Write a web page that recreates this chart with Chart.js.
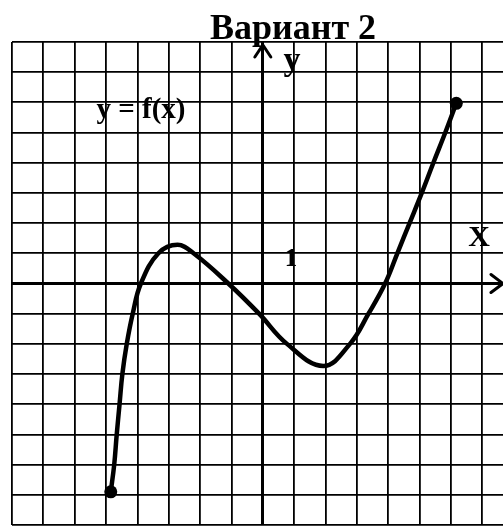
<!DOCTYPE html>
<html>
<head>
<meta charset="utf-8">
<script src="https://cdn.jsdelivr.net/npm/chart.js@4"></script>
<style>
  body { margin: 0; background: #fff; overflow: hidden; }
  #graph { display: block; }
</style>
</head>
<body>
<canvas id="graph" width="503" height="529"></canvas>
<script>
// points (grid units)
const curveX = [-4.85, -4.74, -4.66, -4.57, -4.48, -4.34, -4.15, -3.89, -3.33, -2.72, -2.21, -1.1, -0.12, 0.77, 1.93, 2.78, 3.37, 3.9, 4.29, 4.68, 5.07, 5.44, 5.82, 6.17];
const curveY = [-6.9, -6.0, -5.0, -4.0, -3.0, -2.0, -1.0, 0, 1.0, 1.28, 1.0, 0, -1.0, -2.0, -2.73, -2.0, -1.0, 0, 1.0, 2.0, 3.0, 4.0, 5.0, 5.97];

const xMin = -8, xMax = 7.66;
const yMin = -8, yMax = 8;

const titleText = 'Вариант 2';
const funcLabel = 'y = f(x)';

const points = curveX.map((x, i) => ({ x: x, y: curveY[i] }));
const lastIdx = points.length - 1;

// axis arrows and the text labels
const decor = {
  id: 'decor',
  afterDraw(chart) {
    const c = chart.ctx;
    const sx = chart.scales.x, sy = chart.scales.y;
    const area = chart.chartArea;
    const x0 = sx.getPixelForValue(0);
    const y0 = sy.getPixelForValue(0);
    c.save();
    c.strokeStyle = '#000';
    c.lineWidth = 3;
    c.lineCap = 'round';
    // y arrow
    c.beginPath();
    c.moveTo(x0 - 8, area.top + 15);
    c.lineTo(x0, area.top + 3);
    c.lineTo(x0 + 8, area.top + 15);
    c.stroke();
    // x arrow
    c.beginPath();
    c.moveTo(area.right - 12, y0 - 9);
    c.lineTo(area.right, y0);
    c.lineTo(area.right - 12, y0 + 9);
    c.stroke();

    c.fillStyle = '#000';
    c.textAlign = 'center';
    c.textBaseline = 'alphabetic';
    c.font = 'bold 36px "Liberation Serif", "Times New Roman", serif';
    c.fillText(titleText, 293, 39);
    c.font = 'bold 34px "Liberation Serif", serif';
    c.fillText('y', 292, 70);
    c.font = 'bold 29px "Liberation Serif", serif';
    c.fillText(funcLabel, 141, 118);
    c.font = 'bold 30px "Liberation Serif", serif';
    c.fillText('X', 479, 246);
    c.font = 'bold 25px "Liberation Serif", serif';
    c.fillText('1', 291, 266);
    c.restore();
  }
};

const gridOpts = {
  color: '#000',
  lineWidth: (ctx) => (ctx.tick && ctx.tick.value === 0 ? 3 : 1.8),
  drawTicks: false
};

new Chart(document.getElementById('graph'), {
  type: 'line',
  data: {
    datasets: [{
      data: points,
      borderColor: '#000',
      backgroundColor: '#000',
      borderWidth: 4.5,
      tension: 0.4,
      pointRadius: (ctx) => (ctx.dataIndex === 0 || ctx.dataIndex === lastIdx ? 6.5 : 0),
      pointBorderWidth: 0,
      fill: false
    }]
  },
  options: {
    responsive: false,
    animation: false,
    layout: { autoPadding: false, padding: { left: 12, top: 42, right: 0, bottom: 4 } },
    plugins: {
      legend: { display: false },
      tooltip: { enabled: false }
    },
    scales: {
      x: {
        type: 'linear',
        min: xMin,
        max: xMax,
        ticks: { display: false, stepSize: 1, includeBounds: false },
        grid: gridOpts,
        border: { display: false }
      },
      y: {
        min: yMin,
        max: yMax,
        ticks: { display: false, stepSize: 1 },
        grid: gridOpts,
        border: { display: false }
      }
    }
  },
  plugins: [decor]
});
</script>
</body>
</html>
